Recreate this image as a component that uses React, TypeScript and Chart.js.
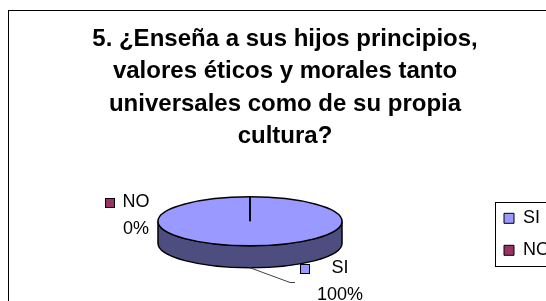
import React, { useEffect, useRef } from "react";
import { Chart, registerables } from "chart.js";

Chart.register(...registerables);

// ---- data ----
const TITLE_LINES = [
  "5. ¿Enseña a sus hijos principios,",
  "valores éticos y morales tanto",
  "universales como de su propia",
  "cultura?",
];
const CATEGORIES = ["SI", "NO"];
const VALUES = [100, 0];

// ---- style ----
const FONT = "Arial, 'Liberation Sans', sans-serif";
const COLORS = ["#9999FF", "#993366"];
const SIDE_COLORS = ["#4D4D80", "#4D1A33"];
const W = 552;
const H = 302;
const TILT = 0.266;
const DEPTH = 22;
const PIE_LINE = 1.5;
const LABEL_OFFSETS = [
  [90, 13.7],
  [-114, 18.8],
];
const LEADERS = [true, false];

function geom(chart: any) {
  const arcs = chart.getDatasetMeta(0).data as any[];
  if (!arcs.length) return null;
  const { x: cx, y: cy, outerRadius: r } = arcs[0];
  const topY = cy - DEPTH / 2;
  return { arcs, cx, cy, r, topY, botY: topY + DEPTH, ry: r * TILT };
}

const pie3d = {
  id: "pie3d",
  beforeDatasetsDraw(chart: any) {
    const ctx = chart.ctx;
    ctx.save();
    const g = geom(chart);
    if (!g) return;
    const { arcs, cx, cy, r, topY, botY, ry } = g;
    arcs.forEach((arc: any, i: number) => {
      const a0 = arc.startAngle;
      const a1 = arc.endAngle;
      for (let k = -1; k <= 1; k++) {
        const b0 = Math.max(a0 + 2 * Math.PI * k, 0);
        const b1 = Math.min(a1 + 2 * Math.PI * k, Math.PI);
        if (b1 <= b0) continue;
        ctx.beginPath();
        ctx.ellipse(cx, topY, r, ry, 0, b0, b1);
        ctx.lineTo(cx + r * Math.cos(b1), botY + ry * Math.sin(b1));
        ctx.ellipse(cx, botY, r, ry, 0, b1, b0, true);
        ctx.closePath();
        ctx.fillStyle = SIDE_COLORS[i];
        ctx.fill();
        ctx.strokeStyle = "#000";
        ctx.lineWidth = PIE_LINE;
        ctx.stroke();
      }
    });
    ctx.translate(cx, topY);
    ctx.scale(1, TILT);
    ctx.translate(-cx, -cy);
  },
  afterDatasetsDraw(chart: any) {
    const ctx = chart.ctx;
    ctx.restore();
    const g = geom(chart);
    if (!g) return;
    const { arcs, cx, r, topY, ry } = g;
    ctx.save();
    ctx.strokeStyle = "#000";
    ctx.lineWidth = PIE_LINE;
    ctx.beginPath();
    ctx.ellipse(cx, topY, r, ry, 0, 0, Math.PI * 2);
    ctx.stroke();
    if (arcs.length > 1) {
      arcs.forEach((arc: any) => {
        const a = arc.startAngle;
        ctx.beginPath();
        ctx.moveTo(cx, topY);
        ctx.lineTo(cx + r * Math.cos(a), topY + ry * Math.sin(a));
        ctx.stroke();
      });
    }
    ctx.restore();
  },
  afterDraw(chart: any) {
    const ctx = chart.ctx;
    ctx.save();
    // outer frame
    ctx.strokeStyle = "#000";
    ctx.lineWidth = 1;
    ctx.strokeRect(0.5, 0.5, W + 20, H + 20);

    // legend border
    const hb = chart.legend && chart.legend.legendHitBoxes;
    if (hb && hb.length) {
      const left = Math.round(hb[0].left - 9) + 0.5;
      const top = Math.round(hb[0].top - 7) + 0.5;
      const last = hb[hb.length - 1];
      const bottom = Math.round(last.top + last.height + 7) + 0.5;
      const right = Math.max(...hb.map((h: any) => h.left + h.width)) + 10;
      ctx.strokeRect(left, top, right - left, bottom - top);
    }

    // data labels
    const g = geom(chart);
    if (g) {
      const { arcs, cx, r, topY, ry } = g;
      const total = VALUES.reduce((a, b) => a + b, 0);
      ctx.font = `18px ${FONT}`;
      ctx.textAlign = "center";
      ctx.textBaseline = "middle";
      arcs.forEach((arc: any, i: number) => {
        const m = (arc.startAngle + arc.endAngle) / 2;
        const sm = Math.sin(m);
        const ax = cx + r * Math.cos(m);
        const ay = topY + ry * sm + (sm > 0.001 ? DEPTH : 0);
        const bx = ax + LABEL_OFFSETS[i][0];
        const by = ay + LABEL_OFFSETS[i][1];
        const lines = [CATEGORIES[i], Math.round((VALUES[i] / total) * 100) + "%"];
        const maxW = Math.max(...lines.map((t) => ctx.measureText(t).width));
        const half = 13.65;
        ctx.fillStyle = "#000";
        ctx.fillText(lines[0], bx, by - half);
        ctx.fillText(lines[1], bx, by + half);
        const sqRight = Math.round(bx - maxW / 2 - 7);
        const sqLeft = sqRight - 10;
        const sqTop = Math.round(by - half - 4);
        ctx.fillStyle = COLORS[i];
        ctx.fillRect(sqLeft, sqTop, 10, 10);
        ctx.strokeStyle = "#000";
        ctx.lineWidth = 1;
        ctx.strokeRect(sqLeft + 0.5, sqTop + 0.5, 9, 9);
        if (LEADERS[i]) {
          ctx.strokeStyle = "#404040";
          ctx.beginPath();
          ctx.moveTo(ax, ay);
          ctx.lineTo(sqLeft - 10, by + 1);
          ctx.lineTo(sqLeft - 5, by + 1);
          ctx.stroke();
        }
      });
    }
    ctx.restore();
  },
};

export default function App() {
  const ref = useRef<HTMLCanvasElement | null>(null);
  useEffect(() => {
    if (!ref.current) return;
    Chart.defaults.font.family = FONT;
    const base = ((Chart as any).overrides.pie || (Chart as any).overrides.doughnut).plugins.legend.labels
      .generateLabels;
    const chart = new Chart(ref.current, {
      type: "pie",
      data: {
        labels: CATEGORIES,
        datasets: [
          {
            data: VALUES,
            backgroundColor: COLORS,
            borderWidth: 0,
            radius: 92,
            clip: false,
          } as any,
        ],
      },
      options: {
        responsive: false,
        maintainAspectRatio: false,
        animation: false,
        events: [],
        layout: { padding: { left: 2, right: 0, top: 0, bottom: 0 } },
        plugins: {
          tooltip: { enabled: false },
          title: {
            display: true,
            text: TITLE_LINES,
            color: "#000",
            font: { family: FONT, size: 24, weight: "bold", lineHeight: 1.35 },
            padding: { top: 13, bottom: 0 },
          },
          legend: {
            position: "right",
            fullSize: false,
            align: "center",
            title: { display: true, text: "", font: { size: 4, lineHeight: 1 }, padding: 0 },
            labels: {
              boxWidth: 10,
              boxHeight: 10,
              padding: 14,
              color: "#000",
              font: { family: FONT, size: 18 },
              generateLabels: (c: any) =>
                base(c).map((l: any) => ({ ...l, strokeStyle: "#000", lineWidth: 1, fontColor: "#000" })),
            },
          },
        },
      } as any,
      plugins: [pie3d as any],
    });
    return () => chart.destroy();
  }, []);

  return (
    <div
      style={{
        position: "fixed",
        left: 0,
        top: 0,
        width: 546,
        height: 301,
        overflow: "hidden",
        background: "#fff",
      }}
    >
      <canvas
        ref={ref}
        width={W}
        height={H}
        style={{ position: "absolute", left: 8, top: 10, width: W, height: H }}
      />
    </div>
  );
}
